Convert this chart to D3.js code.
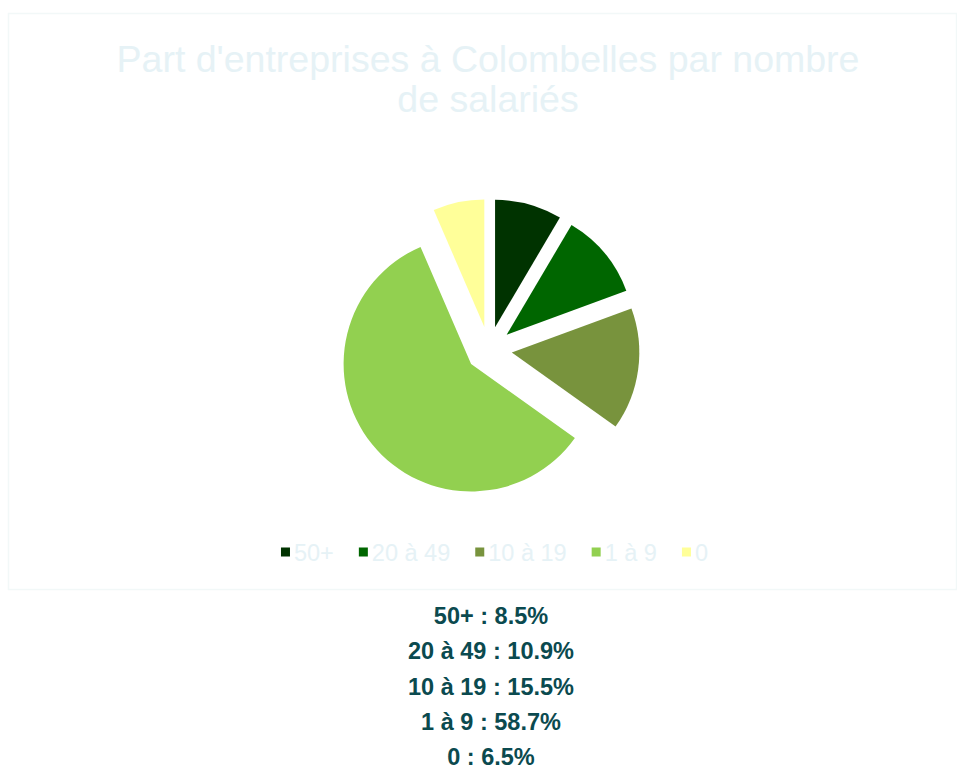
<!DOCTYPE html>
<html>
<head>
<meta charset="utf-8">
<script src="https://cdn.jsdelivr.net/npm/d3@7"></script>
<style>
  html, body { margin: 0; padding: 0; background: #ffffff; }
  svg { display: block; font-family: "Liberation Sans", Arial, sans-serif; }
</style>
</head>
<body>
<svg id="chart" width="957" height="769"></svg>
<script>
// Share of companies in Colombelles by number of employees
const categories = ["50+", "20 à 49", "10 à 19", "1 à 9", "0"];
const shares = [8.5, 10.9, 15.5, 58.7, 6.5];
const colors = ["#003300", "#006600", "#78933d", "#92d050", "#ffff99"];
const titleLines = ["Part d'entreprises à Colombelles par nombre", "de salariés"];

const svg = d3.select("#chart");

// light frame around the chart area
svg.append("rect")
  .attr("x", 8.5).attr("y", 13.5)
  .attr("width", 948).attr("height", 576)
  .attr("fill", "#ffffff")
  .attr("stroke", "#f2f8f8")
  .attr("stroke-width", 1.5);

// title
const title = svg.append("text")
  .attr("text-anchor", "middle")
  .attr("fill", "#e6f2f6")
  .style("font-size", "37.5px");
titleLines.forEach((line, i) => {
  title.append("tspan").attr("x", 488).attr("y", 72 + i * 40).text(line);
});

// pie with every slice pulled out along its bisector
const cx = 489, cy = 349.5, radius = 127.5, offset = 23;
const pie = d3.pie().sort(null).value(d => d.value)
  .startAngle(0).endAngle(2 * Math.PI);
const arc = d3.arc().innerRadius(0).outerRadius(radius);
const data = categories.map((c, i) => ({ name: c, value: shares[i], color: colors[i] }));

const g = svg.append("g").attr("transform", `translate(${cx},${cy})`);
g.selectAll("path")
  .data(pie(data))
  .join("path")
  .attr("d", arc)
  .attr("fill", d => d.data.color)
  .attr("transform", d => {
    const a = (d.startAngle + d.endAngle) / 2;
    return `translate(${offset * Math.sin(a)},${-offset * Math.cos(a)})`;
  });

// legend
const legend = svg.append("g");
const legendY = 552;
const legendFont = 23.5;
const symGap = 13, itemGap = 25;
let lx = 0;
const items = [];
data.forEach(d => {
  items.push({ d, x: lx });
  const tmp = svg.append("text").style("font-size", legendFont + "px").text(d.name);
  const w = tmp.node().getComputedTextLength();
  tmp.remove();
  lx += symGap + w + itemGap;
});
const totalW = lx - itemGap;
const startX = 494.5 - totalW / 2;
items.forEach(({ d, x }) => {
  const gx = startX + x;
  legend.append("rect")
    .attr("x", gx).attr("y", legendY - 4.5)
    .attr("width", 9).attr("height", 9)
    .attr("fill", d.color);
  legend.append("text")
    .attr("x", gx + symGap).attr("y", legendY + 9)
    .attr("fill", "#e6f2f6")
    .style("font-size", legendFont + "px")
    .text(d.name);
});

// value summary below the chart
svg.append("g").selectAll("text")
  .data(data)
  .join("text")
  .attr("x", 491)
  .attr("y", (d, i) => 624 + i * 35.25)
  .attr("text-anchor", "middle")
  .attr("fill", "#0b4a4f")
  .style("font-size", "23.5px")
  .style("font-weight", "bold")
  .text(d => `${d.name} : ${d.value}%`);
</script>
</body>
</html>
